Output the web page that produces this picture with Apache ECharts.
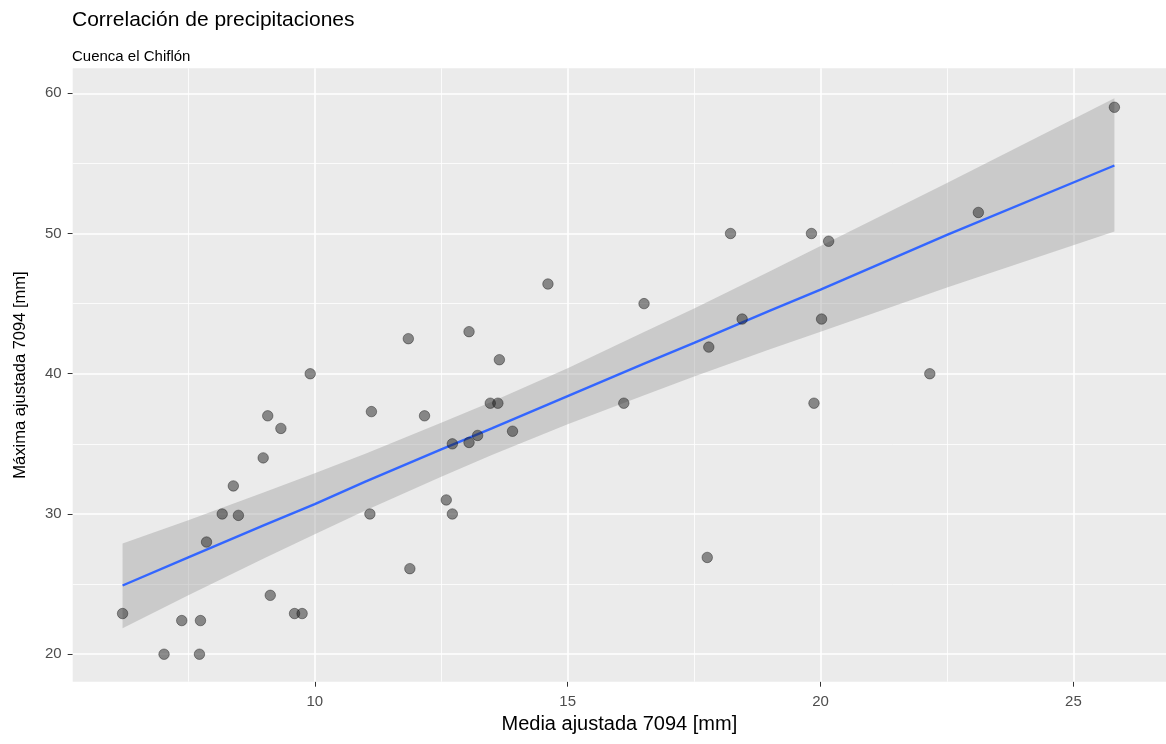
<!DOCTYPE html>
<html>
<head>
<meta charset="utf-8">
<script src="https://cdn.jsdelivr.net/npm/echarts@6/dist/echarts.min.js"></script>
<style>
  html, body { margin: 0; padding: 0; background: #fff; }
  #chart { width: 1166px; height: 744px; }
</style>
</head>
<body>
<div id="chart"></div>
<script>
// ---- data ----
const pointsX = [6.2, 7.02, 7.37, 7.72, 7.74, 7.86, 8.17, 8.39, 8.49, 8.98, 9.07, 9.12, 9.33, 9.6, 9.75, 9.91,
  11.09, 11.12, 11.85, 11.88, 12.17, 12.6, 12.72, 12.72, 13.05, 13.05, 13.22, 13.47, 13.62, 13.65, 13.91,
  14.61, 16.11, 16.51, 17.76, 17.79, 18.22, 18.45, 19.82, 19.87, 20.02, 20.16, 22.16, 23.12, 25.81];
const pointsY = [22.9, 20, 22.4, 20, 22.4, 28, 30, 32, 29.9, 34, 37, 24.2, 36.1, 22.9, 22.9, 40,
  30, 37.3, 42.5, 26.1, 37, 31, 35, 30, 43, 35.1, 35.6, 37.9, 37.9, 41, 35.9,
  46.4, 37.9, 45, 26.9, 41.9, 50, 43.9, 50, 37.9, 43.9, 49.45, 40, 51.5, 59];

// smooth line and its confidence ribbon, read at several x positions
const fitX  = [6.2, 7.5, 9, 10, 11, 12.5, 13.5, 15, 16.5, 17.5, 19, 20, 22.5, 25.81];
const fitY  = [24.9, 26.9, 29.2, 30.7, 32.3, 34.6, 36.1, 38.4, 40.7, 42.2, 44.5, 46.0, 49.9, 54.85];
const bandUpper = [27.9, 29.55, 31.55, 32.9, 34.3, 36.5, 38.0, 40.4, 42.95, 44.65, 47.3, 49.1, 53.6, 59.65];
const bandLower = [21.85, 24.2, 26.85, 28.55, 30.25, 32.65, 34.2, 36.4, 38.45, 39.8, 41.75, 43.0, 46.15, 50.15];

// axis ticks
const xTicks = [10, 15, 20, 25];
const xMinor = [7.5, 12.5, 17.5, 22.5];
const yTicks = [20, 30, 40, 50, 60];
const yMinor = [25, 35, 45, 55];
const xRange = [5.214, 26.83];
const yRange = [18.04, 61.78];

const titleText = 'Correlación de precipitaciones';
const subtitleText = 'Cuenca el Chiflón';
const xName = 'Media ajustada 7094 [mm]';
const yName = 'Máxima ajustada 7094 [mm]';

// ---- chart ----
const FONT = "'Liberation Sans', Arial, sans-serif";
const chart = echarts.init(document.getElementById('chart'), null, { renderer: 'canvas' });

const points = pointsX.map((x, i) => [x, pointsY[i]]);
const fitLine = fitX.map((x, i) => [x, fitY[i]]);

const gridLines = [];
xTicks.forEach(v => gridLines.push({ xAxis: v, lineStyle: { color: '#ffffff', width: 1.6, type: 'solid' } }));
xMinor.forEach(v => gridLines.push({ xAxis: v, lineStyle: { color: '#ffffff', width: 0.8, type: 'solid' } }));
yTicks.forEach(v => gridLines.push({ yAxis: v, lineStyle: { color: '#ffffff', width: 1.6, type: 'solid' } }));
yMinor.forEach(v => gridLines.push({ yAxis: v, lineStyle: { color: '#ffffff', width: 0.8, type: 'solid' } }));

const option = {
  animation: false,
  backgroundColor: '#ffffff',
  title: [
    { text: titleText, left: 72, top: 10, padding: 0,
      textStyle: { fontFamily: FONT, fontSize: 21, fontWeight: 'normal', color: '#000000' } },
    { text: subtitleText, left: 72, top: 49, padding: 0,
      textStyle: { fontFamily: FONT, fontSize: 15, fontWeight: 'normal', color: '#000000' } }
  ],
  grid: {
    left: 72.7, top: 68.3, right: -3, bottom: 62.3,
    show: true, backgroundColor: '#EBEBEB', borderWidth: 0
  },
  xAxis: {
    type: 'value', min: xRange[0], max: xRange[1],
    name: xName, nameLocation: 'middle', nameGap: 29,
    nameTextStyle: { fontFamily: FONT, fontSize: 20, color: '#000000' },
    axisLine: { show: false },
    axisTick: { show: true, length: 5, lineStyle: { color: '#333333', width: 1 }, customValues: xTicks },
    axisLabel: { fontFamily: FONT, fontSize: 15, color: '#4D4D4D', margin: 13, customValues: xTicks },
    splitLine: { show: false }
  },
  yAxis: {
    type: 'value', min: yRange[0], max: yRange[1],
    name: yName, nameLocation: 'middle', nameGap: 44,
    nameTextStyle: { fontFamily: FONT, fontSize: 16.5, color: '#000000' },
    axisLine: { show: false },
    axisTick: { show: true, length: 5, lineStyle: { color: '#333333', width: 1 }, customValues: yTicks },
    axisLabel: { fontFamily: FONT, fontSize: 15, color: '#4D4D4D', margin: 11, customValues: yTicks },
    splitLine: { show: false }
  },
  series: [
    {
      type: 'line', data: [], z: 1, silent: true,
      markLine: { z: 1, silent: true, symbol: ['none', 'none'], label: { show: false }, animation: false, data: gridLines }
    },
    {
      type: 'custom', z: 2, silent: true,
      data: [[fitX[0], bandLower[0]]],
      renderItem: function (params, api) {
        const pts = [];
        for (let i = 0; i < fitX.length; i++) pts.push(api.coord([fitX[i], bandUpper[i]]));
        for (let i = fitX.length - 1; i >= 0; i--) pts.push(api.coord([fitX[i], bandLower[i]]));
        return { type: 'polygon', shape: { points: pts }, style: { fill: 'rgba(153,153,153,0.4)', stroke: null } };
      }
    },
    {
      type: 'line', z: 3, data: fitLine, showSymbol: false, smooth: false, silent: true,
      lineStyle: { color: '#3366FF', width: 2.4 }
    },
    {
      type: 'scatter', z: 4, data: points, symbol: 'circle', symbolSize: 10.5,
      itemStyle: { color: 'rgba(30,30,30,0.62)', borderColor: 'rgba(0,0,0,0.45)', borderWidth: 1 }
    }
  ]
};
chart.setOption(option);
</script>
</body>
</html>
